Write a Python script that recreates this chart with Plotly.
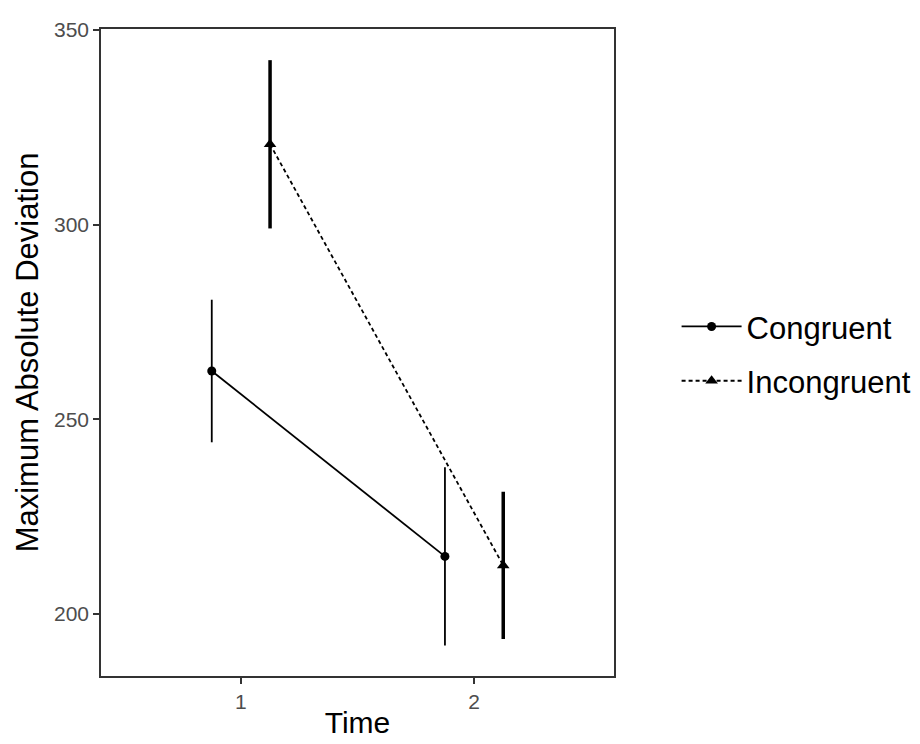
import plotly.graph_objects as go

time_ticks = [1, 2]
tick_labels = ["1", "2"]
dodge = 0.125

congruent_mean = [262.4, 214.8]
congruent_err = [18.3, 22.9]
incongruent_mean = [320.6, 212.5]
incongruent_err = [21.6, 18.9]

fig = go.Figure()
fig.add_trace(go.Scatter(
    x=[t - dodge for t in time_ticks], y=congruent_mean,
    mode="lines+markers", name="Congruent", legendgroup="c",
    line=dict(color="black", width=1.8, dash="solid"),
    marker=dict(symbol="circle", size=9, color="black"),
    error_y=dict(type="data", array=congruent_err, visible=True,
                 thickness=1.8, width=0, color="black"),
))
fig.add_trace(go.Scatter(
    x=[t + dodge for t in time_ticks], y=incongruent_mean,
    mode="lines+markers", name="Incongruent", legendgroup="i",
    line=dict(color="black", width=1.8, dash="4px,3px"),
    marker=dict(symbol="triangle-up", size=11, color="black"),
    error_y=dict(type="data", array=incongruent_err, visible=True,
                 thickness=3.5, width=0, color="black"),
))

axis_common = dict(
    showgrid=False, zeroline=False, showline=True, mirror=True,
    linecolor="#333333", linewidth=1.5, ticks="outside", ticklen=6,
    tickcolor="#333333", tickwidth=1.5,
    tickfont=dict(family="Liberation Sans, Arial", size=21, color="#4d4d4d"),
)

fig.update_layout(
    width=920, height=744,
    margin=dict(l=93, r=314, t=10, b=76),
    paper_bgcolor="white", plot_bgcolor="white",
    font=dict(family="Liberation Sans, Arial", color="black"),
    xaxis=dict(range=[0.4, 2.6], tickvals=time_ticks, ticktext=tick_labels,
               title=dict(text="Time", font=dict(size=30), standoff=0),
               **axis_common),
    yaxis=dict(range=[184.1, 350.2], tickvals=[200, 250, 300, 350],
               title=dict(text="Maximum Absolute Deviation", font=dict(size=31), standoff=6),
               **axis_common),
    showlegend=True,
    legend=dict(x=1.122, xanchor="left", y=0.498, yanchor="middle",
                font=dict(size=31), tracegroupgap=11, itemwidth=60,
                bgcolor="rgba(0,0,0,0)"),
)

fig.write_html("out.html")
